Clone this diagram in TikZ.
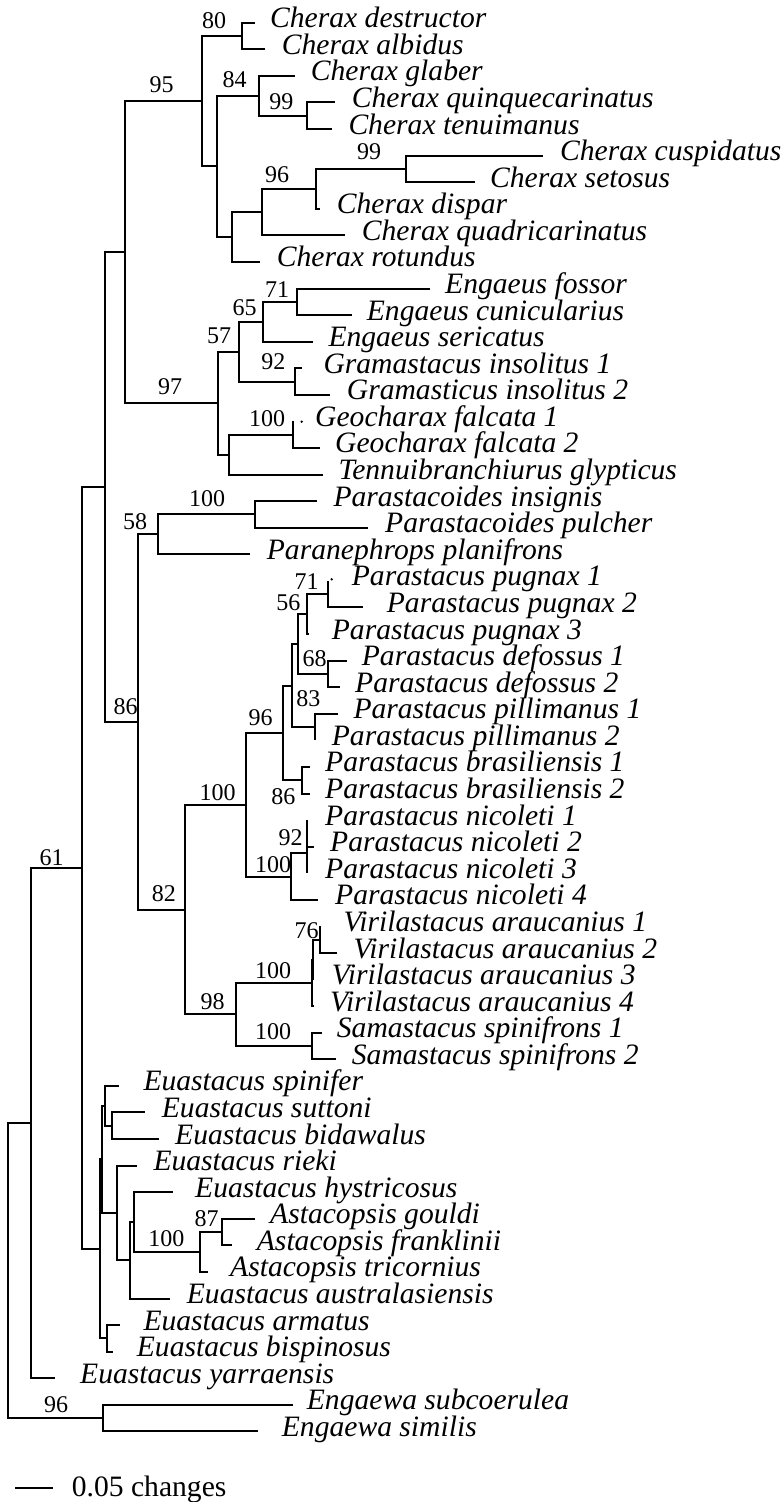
\documentclass[tikz,border=0pt]{standalone}
\usepackage{fontspec}
\setmainfont{Liberation Serif}
\begin{document}
\begin{tikzpicture}[x=1pt,y=-1pt,
  br/.style={line width=2pt, line join=miter},
  tx/.style={anchor=base west, inner sep=0pt, text height=0.62em, text depth=0.08em, font=\fontsize{29.6}{30}\selectfont\itshape},
  bs/.style={anchor=center, inner sep=0pt, font=\fontsize{24}{24}\selectfont}]
\useasboundingbox (0,0) rectangle (784,1502);
% leaves: index / tip x / text x / name
\foreach \i/\p/\q/\s in {
1/255/270/Cherax destructor,
2/265/281.7/Cherax albidus,
3/295/310.7/Cherax glaber,
4/335/351.7/Cherax quinquecarinatus,
5/332.3/348.3/Cherax tenuimanus,
6/543.3/560/Cherax cuspidatus,
7/475/490/Cherax setosus,
8/320/336.7/Cherax dispar,
9/345/361.7/Cherax quadricarinatus,
10/260/276.7/Cherax rotundus,
11/430/445/Engaeus fossor,
12/351.7/366.7/Engaeus cunicularius,
13/312.7/328.3/Engaeus sericatus,
14/301.7/323.3/Gramastacus insolitus 1,
15/330/346.7/Gramasticus insolitus 2,
16/292.7/315/Geocharax falcata 1,
17/320/335/Geocharax falcata 2,
18/323.3/338.3/Tennuibranchiurus glypticus,
19/316.7/333.3/Parastacoides insignis,
20/368.3/385/Parastacoides pulcher,
21/250/266.7/Paranephrops planifrons,
22/328.3/351.7/Parastacus pugnax 1,
23/363.3/386.7/Parastacus pugnax 2,
24/309.3/331.7/Parastacus pugnax 3,
25/346.7/361.7/Parastacus defossus 1,
26/340/355/Parastacus defossus 2,
27/338.3/353.3/Parastacus pillimanus 1,
28/315/331.7/Parastacus pillimanus 2,
29/310/325/Parastacus brasiliensis 1,
30/310/325/Parastacus brasiliensis 2,
31/306.7/325/Parastacus nicoleti 1,
32/314.3/330/Parastacus nicoleti 2,
33/306.7/325/Parastacus nicoleti 3,
34/318.3/335/Parastacus nicoleti 4,
35/320/343.3/Virilastacus araucanius 1,
36/336.7/353.3/Virilastacus araucanius 2,
37/313.3/331.7/Virilastacus araucanius 3,
38/314/330/Virilastacus araucanius 4,
39/321.7/336.7/Samastacus spinifrons 1,
40/336/351.7/Samastacus spinifrons 2,
41/119.3/143.3/Euastacus spinifer,
42/145/161.7/Euastacus suttoni,
43/159.3/175/Euastacus bidawalus,
44/137.3/153.3/Euastacus rieki,
45/172.7/195/Euastacus hystricosus,
46/255/270/Astacopsis gouldi,
47/231.7/256.7/Astacopsis franklinii,
48/208.3/230/Astacopsis tricornius,
49/170/186.7/Euastacus australasiensis,
50/120/143.3/Euastacus armatus,
51/113.3/136.7/Euastacus bispinosus,
52/55/80/Euastacus yarraensis,
53/293.3/306.7/Engaewa subcoerulea,
54/258.3/281.7/Engaewa similis}{
  \pgfmathsetmacro\ly{22.7+26.58*(\i-1)}
  \coordinate (l\i) at (\p,\ly);
  \node[tx] (t\i) at (\q,\ly+5) {\s};
}
% internal nodes
\coordinate (c80) at (242,35.99);
\coordinate (c99a) at (306.7,115.73);
\coordinate (c84) at (259.3,95.8);
\coordinate (c99b) at (406,168.89);
\coordinate (n316) at (316,188.83);
\coordinate (c96) at (262.3,212.09);
\coordinate (n231) at (231.7,237.0);
\coordinate (n217) at (217,166.4);
\coordinate (c0) at (202,101.2);
\coordinate (c71) at (296.7,301.79);
\coordinate (c65) at (262.7,321.73);
\coordinate (c92) at (295,381.53);
\coordinate (c57) at (239.3,351.63);
\coordinate (c100g) at (292.7,434.69);
\coordinate (n229) at (229.3,454.63);
\coordinate (c97) at (218.3,403.13);
\coordinate (nA) at (125,252.17);
\coordinate (c100p) at (255,514.43);
\coordinate (c58) at (157.7,534.37);
\coordinate (c71b) at (328.3,594.17);
\coordinate (c56) at (306.7,614.1);
\coordinate (c68) at (328.3,673.91);
\coordinate (n298) at (298.3,644.0);
\coordinate (npil) at (315,727.07);
\coordinate (c83) at (291.7,685.54);
\coordinate (c86b) at (301.7,780.23);
\coordinate (c96p) at (283.3,732.89);
\coordinate (n92a) at (306.7,833.39);
\coordinate (c92n) at (306.7,853.33);
\coordinate (c100n) at (290.7,876.59);
\coordinate (c100pa) at (246,804.74);
\coordinate (c76) at (320,939.71);
\coordinate (v1) at (313.3,959.65);
\coordinate (c100v) at (311.7,982.9);
\coordinate (c100s) at (311.7,1046.03);
\coordinate (c98) at (236,1014.47);
\coordinate (c82) at (185,909.6);
\coordinate (c86) at (137.7,721.99);
\coordinate (n105) at (105,487.08);
\coordinate (s1) at (111.7,1125.77);
\coordinate (s2) at (105,1105.84);
\coordinate (a87) at (221.7,1232.09);
\coordinate (a100) at (200,1252.03);
\coordinate (h) at (134,1222.13);
\coordinate (ha) at (130,1260.34);
\coordinate (r) at (116.7,1212.99);
\coordinate (s3) at (102,1159.42);
\coordinate (ab) at (107.3,1338.41);
\coordinate (e0) at (100,1248.92);
\coordinate (c61) at (81.7,868.0);
\coordinate (n31) at (31,1123.14);
\coordinate (eng) at (103.3,1418.15);
\coordinate (root) at (8.3,1270.65);
% edges
\foreach \a/\b in {c80/l1, c80/l2, c99a/l4, c99a/l5, c84/l3, c84/c99a, c99b/l6, c99b/l7,
 n316/c99b, n316/l8, c96/n316, c96/l9, n231/c96, n231/l10, n217/c84, n217/n231, c0/c80, c0/n217,
 c71/l11, c71/l12, c65/c71, c65/l13, c92/l14, c92/l15, c57/c65, c57/c92, c100g/l16, c100g/l17,
 n229/c100g, n229/l18, c97/c57, c97/n229, nA/c0, nA/c97,
 c100p/l19, c100p/l20, c58/c100p, c58/l21, c71b/l22, c71b/l23, c56/c71b, c56/l24, c68/l25, c68/l26,
 n298/c56, n298/c68, npil/l27, npil/l28, c83/n298, c83/npil, c86b/l29, c86b/l30, c96p/c83, c96p/c86b,
 n92a/l31, n92a/l32, c92n/n92a, c92n/l33, c100n/c92n, c100n/l34, c100pa/c96p, c100pa/c100n,
 c76/l35, c76/l36, v1/c76, v1/l37, c100v/v1, c100v/l38, c100s/l39, c100s/l40, c98/c100v, c98/c100s,
 c82/c100pa, c82/c98, c86/c58, c86/c82, n105/nA, n105/c86,
 s1/l42, s1/l43, s2/l41, s2/s1, a87/l46, a87/l47, a100/a87, a100/l48, h/l45, h/a100, ha/h, ha/l49,
 r/l44, r/ha, s3/s2, s3/r, ab/l50, ab/l51, e0/s3, e0/ab, c61/n105, c61/e0, n31/c61, n31/l52,
 eng/l53, eng/l54, root/n31, root/eng}{
  \draw[br] (\a) |- (\b);
}
% tiny tips
\coordinate (d16) at (301.7,421.7);
\coordinate (d22) at (331.7,579.3);
\fill (d16) circle (1.3pt);
\fill (d22) circle (1.3pt);
% bootstrap values
\node[bs] (b95) at (161.7,85) {95};
\node[bs] (b80) at (214.2,20.8) {80};
\node[bs] (b84) at (234.7,80) {84};
\node[bs] (b99a) at (281.3,101.7) {99};
\node[bs] (b99b) at (369,151.7) {99};
\node[bs] (b96) at (277,174.3) {96};
\node[bs] (b71) at (277,289.2) {71};
\node[bs] (b65) at (244.7,308) {65};
\node[bs] (b57) at (219.2,336) {57};
\node[bs] (b92) at (273.3,362) {92};
\node[bs] (b100g) at (267.2,418.3) {100};
\node[bs] (b97) at (170,386.7) {97};
\node[bs] (b100p) at (207.2,499) {100};
\node[bs] (b58) at (135,521.7) {58};
\node[bs] (b86) at (125.7,706.7) {86};
\node[bs] (b71b) at (306.7,581.7) {71};
\node[bs] (b56) at (288.3,602.3) {56};
\node[bs] (b68) at (314.7,658.3) {68};
\node[bs] (b83) at (308.3,698.3) {83};
\node[bs] (b96p) at (260.5,718) {96};
\node[bs] (b86b) at (283.3,796.7) {86};
\node[bs] (b100pa) at (217.5,792.3) {100};
\node[bs] (b92n) at (290.7,837.3) {92};
\node[bs] (b100n) at (273,865) {100};
\node[bs] (b82) at (163.8,894) {82};
\node[bs] (b76) at (306.7,930.7) {76};
\node[bs] (b100v) at (273,970.7) {100};
\node[bs] (b98) at (212.7,1001.7) {98};
\node[bs] (b100s) at (273,1031.7) {100};
\node[bs] (b61) at (51.7,858) {61};
\node[bs] (b87) at (206.7,1219) {87};
\node[bs] (b100a) at (166.3,1239) {100};
\node[bs] (b96e) at (56,1405) {96};
% scale bar
\coordinate (sb1) at (15,1488.3);
\coordinate (sb2) at (53.3,1488.3);
\draw[br] (sb1) -- (sb2);
\node[anchor=base west, inner sep=0pt, font=\fontsize{29.6}{30}\selectfont] (sbt) at (71.7,1496) {0.05 changes};
\end{tikzpicture}
\end{document}
